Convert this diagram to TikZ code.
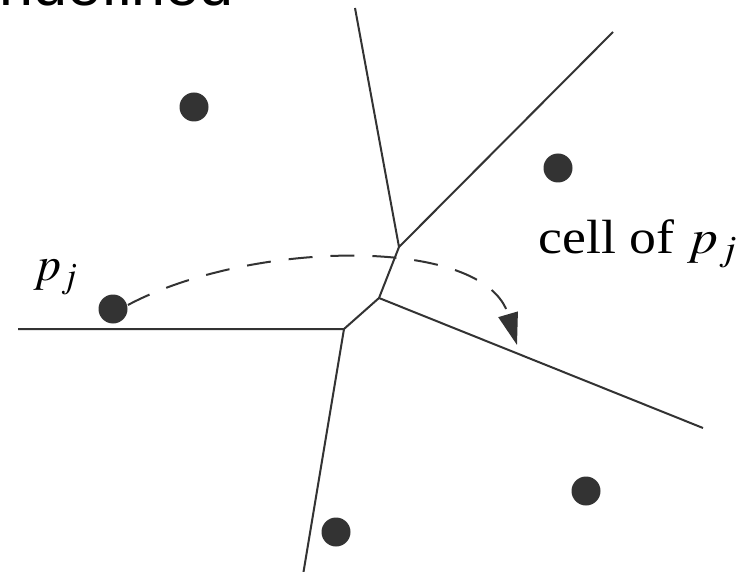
\documentclass[tikz,border=0pt]{standalone}
\usepackage{mathptmx}
\usepackage{fontspec}
\setmainfont{Liberation Serif}
\newfontfamily\headfont{Liberation Sans}
\usetikzlibrary{arrows.meta}

\begin{document}
\begin{tikzpicture}[x=0.5pt,y=-0.5pt,>={Triangle[length=16pt,width=10pt]},
  edge/.style={line width=1pt,black!80},
  site/.style={circle,fill=black!80,inner sep=0pt,minimum size=14.5pt},
  lbl/.style={inner sep=0pt,font=\fontsize{24pt}{28pt}\selectfont}]
\clip (0,0) rectangle (747,571);
% clipped heading at the top
\node[anchor=base west,inner sep=0pt,font=\headfont\fontsize{30.5pt}{34pt}\selectfont]
  (head) at (-1,5.5) {ndefined};
% Voronoi vertices and free ends
\coordinate (v1) at (399,247);
\coordinate (v2) at (379,298);
\coordinate (v3) at (344,329);
\coordinate (top) at (355,8);
\coordinate (ne) at (613,32);
\coordinate (west) at (18,329);
\coordinate (south) at (303,575);
\coordinate (east) at (703,428);
\draw[edge] (top)--(v1)--(ne);
\draw[edge] (v1)--(v2)--(v3)--(west);
\draw[edge] (v3)--(south);
\draw[edge] (v2)--(east);
% sites
\node[site] (s1) at (194,107) {};
\node[site] (s2) at (558,168) {};
\node[site] (pj) at (113,309) {};
\node[site] (s4) at (586,491) {};
\node[site] (s5) at (336,532) {};
% labels
\node[lbl,anchor=base west] (pjlbl) at (33,280) {$p_j$};
\node[lbl,anchor=base west,xscale=1.12] (cell) at (538,253) {cell of $p_j$};
% walk into the cell
\coordinate (tip) at (517,345);
\draw[edge,dash pattern=on 12pt off 9pt,->] (pj.east) ++(0,-4)
  .. controls (250,240) and (485,235) .. (tip);
\end{tikzpicture}
\end{document}
